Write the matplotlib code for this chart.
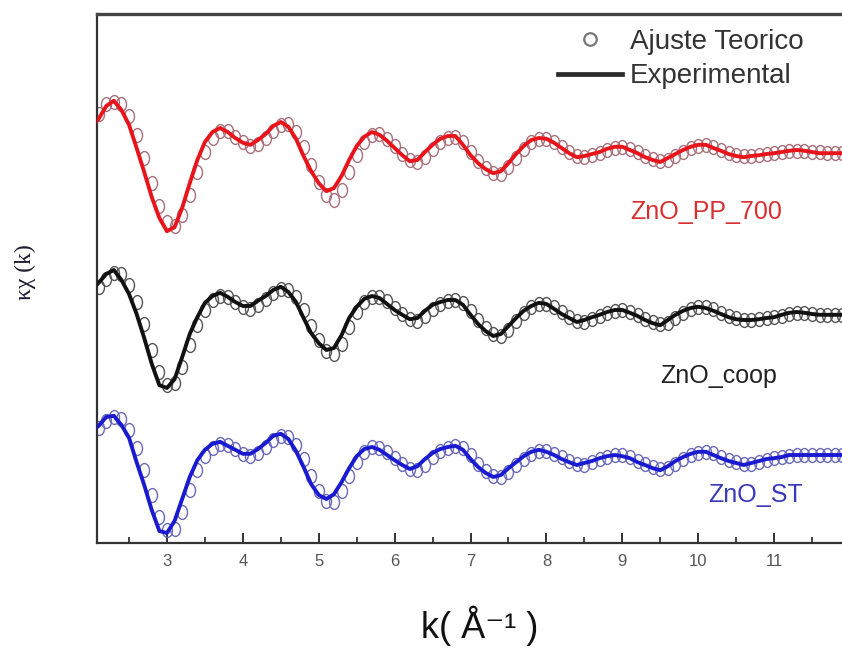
import numpy as np
import matplotlib
matplotlib.use("Agg")
import matplotlib.pyplot as plt
from matplotlib.path import Path
from matplotlib.lines import Line2D
from matplotlib.ticker import MultipleLocator

# ---------------- data ----------------
k = np.arange(20, 121) / 10.0          # k grid, 2.0 ... 12.0 (Å^-1)

red_exp = [0.60, 0.83, 1.15, 1.28, 1.05, 0.68, 0.10, -0.50, -1.13, -1.65,
           -1.98, -1.88, -1.40, -0.78, -0.20, 0.25, 0.50, 0.60, 0.50, 0.35,
           0.23, 0.18, 0.30, 0.45, 0.65, 0.75, 0.63, 0.33, -0.10, -0.48,
           -0.78, -0.98, -0.90, -0.60, -0.20, 0.15, 0.38, 0.50, 0.43, 0.28,
           0.10, -0.08, -0.23, -0.20, 0.00, 0.18, 0.33, 0.40, 0.40, 0.18,
           -0.08, -0.28, -0.43, -0.53, -0.48, -0.28, -0.05, 0.15, 0.30, 0.35,
           0.33, 0.23, 0.10, -0.03, -0.13, -0.10, -0.05, 0.00, 0.08, 0.13,
           0.13, 0.05, -0.03, -0.13, -0.20, -0.25, -0.15, -0.05, 0.05, 0.13,
           0.18, 0.18, 0.10, 0.03, -0.05, -0.10, -0.13, -0.10, -0.08, -0.05,
           -0.03, 0.00, 0.03, 0.05, 0.03, 0.00, -0.03, -0.03, -0.03, -0.03,
           -0.03]
red_fit = [0.75, 0.95, 1.20, 1.25, 1.20, 0.90, 0.43, -0.15, -0.78, -1.35,
           -1.75, -1.85, -1.58, -1.08, -0.50, 0.00, 0.35, 0.53, 0.53, 0.38,
           0.25, 0.15, 0.20, 0.35, 0.53, 0.68, 0.70, 0.50, 0.13, -0.33,
           -0.75, -1.08, -1.20, -0.95, -0.50, -0.08, 0.25, 0.43, 0.45, 0.33,
           0.15, -0.05, -0.20, -0.25, -0.13, 0.08, 0.25, 0.35, 0.38, 0.25,
           0.00, -0.23, -0.40, -0.53, -0.55, -0.38, -0.15, 0.08, 0.25, 0.33,
           0.33, 0.25, 0.13, 0.00, -0.10, -0.13, -0.08, -0.03, 0.05, 0.10,
           0.13, 0.08, 0.00, -0.10, -0.18, -0.23, -0.20, -0.10, 0.00, 0.10,
           0.15, 0.18, 0.13, 0.05, -0.03, -0.08, -0.10, -0.10, -0.08, -0.05,
           -0.03, 0.00, 0.03, 0.03, 0.03, 0.00, 0.00, -0.03, -0.03, -0.03,
           -0.03]

black_exp = [0.65, 0.83, 1.05, 1.15, 0.90, 0.55, 0.05, -0.55, -1.20, -1.73,
             -1.80, -1.58, -1.03, -0.45, -0.03, 0.33, 0.50, 0.58, 0.48, 0.35,
             0.25, 0.25, 0.38, 0.50, 0.65, 0.73, 0.60, 0.35, -0.05, -0.43,
             -0.68, -0.85, -0.80, -0.48, -0.05, 0.23, 0.43, 0.50, 0.45, 0.30,
             0.15, 0.03, -0.08, -0.05, 0.13, 0.28, 0.35, 0.40, 0.40, 0.28,
             0.03, -0.20, -0.38, -0.50, -0.45, -0.25, -0.05, 0.13, 0.25, 0.33,
             0.30, 0.18, 0.05, -0.05, -0.15, -0.10, -0.03, 0.03, 0.10, 0.15,
             0.15, 0.08, 0.00, -0.10, -0.18, -0.23, -0.10, 0.03, 0.13, 0.20,
             0.23, 0.20, 0.13, 0.05, -0.03, -0.08, -0.10, -0.10, -0.08, -0.05,
             -0.03, 0.03, 0.08, 0.10, 0.08, 0.05, 0.03, 0.03, 0.03, 0.03,
             0.03]
black_fit = [0.60, 0.73, 0.93, 1.08, 1.05, 0.78, 0.35, -0.20, -0.85, -1.40,
             -1.73, -1.68, -1.28, -0.73, -0.23, 0.15, 0.40, 0.50, 0.48, 0.35,
             0.23, 0.18, 0.28, 0.43, 0.58, 0.68, 0.65, 0.48, 0.15, -0.25,
             -0.60, -0.88, -0.95, -0.70, -0.28, 0.10, 0.35, 0.48, 0.48, 0.38,
             0.20, 0.05, -0.08, -0.13, 0.00, 0.18, 0.30, 0.38, 0.40, 0.33,
             0.13, -0.10, -0.30, -0.45, -0.50, -0.35, -0.13, 0.08, 0.23, 0.30,
             0.30, 0.23, 0.10, -0.03, -0.13, -0.15, -0.08, 0.00, 0.08, 0.13,
             0.15, 0.10, 0.03, -0.08, -0.15, -0.20, -0.18, -0.05, 0.08, 0.18,
             0.23, 0.23, 0.18, 0.08, 0.00, -0.05, -0.10, -0.10, -0.08, -0.05,
             -0.03, 0.00, 0.05, 0.08, 0.08, 0.05, 0.03, 0.03, 0.03, 0.03,
             0.03]

blue_exp = [0.58, 0.73, 0.95, 0.98, 0.75, 0.43, -0.18, -0.75, -1.38, -1.90,
            -1.95, -1.65, -1.10, -0.55, -0.13, 0.13, 0.28, 0.33, 0.23, 0.13,
            0.03, 0.03, 0.15, 0.30, 0.48, 0.53, 0.40, 0.10, -0.30, -0.73,
            -1.00, -1.10, -0.98, -0.68, -0.33, -0.03, 0.15, 0.20, 0.13, 0.00,
            -0.13, -0.25, -0.35, -0.28, -0.10, 0.05, 0.15, 0.20, 0.23, 0.13,
            -0.10, -0.30, -0.45, -0.55, -0.50, -0.33, -0.18, -0.03, 0.08, 0.13,
            0.08, 0.00, -0.10, -0.18, -0.25, -0.20, -0.15, -0.08, -0.03, 0.00,
            -0.03, -0.08, -0.18, -0.25, -0.33, -0.38, -0.28, -0.15, -0.05, 0.03,
            0.08, 0.08, 0.00, -0.08, -0.15, -0.20, -0.25, -0.20, -0.15, -0.10,
            -0.08, -0.05, 0.00, 0.00, 0.00, 0.00, 0.00, 0.00, 0.00, 0.00,
            0.00]
blue_fit = [0.55, 0.68, 0.85, 0.95, 0.90, 0.63, 0.18, -0.38, -1.00, -1.55,
            -1.88, -1.85, -1.43, -0.88, -0.38, -0.03, 0.18, 0.28, 0.25, 0.15,
            0.03, -0.03, 0.05, 0.20, 0.38, 0.48, 0.45, 0.25, -0.10, -0.53,
            -0.90, -1.15, -1.18, -0.90, -0.53, -0.18, 0.08, 0.20, 0.18, 0.08,
            -0.08, -0.23, -0.35, -0.38, -0.25, -0.05, 0.10, 0.18, 0.23, 0.18,
            0.00, -0.23, -0.40, -0.53, -0.55, -0.43, -0.25, -0.10, 0.03, 0.10,
            0.10, 0.03, -0.05, -0.15, -0.23, -0.25, -0.18, -0.10, -0.05, 0.00,
            0.00, -0.05, -0.15, -0.23, -0.30, -0.35, -0.33, -0.23, -0.10, 0.00,
            0.05, 0.08, 0.05, -0.05, -0.13, -0.18, -0.23, -0.23, -0.18, -0.13,
            -0.08, -0.05, -0.03, 0.00, 0.00, 0.00, 0.00, 0.00, 0.00, 0.00,
            0.00]

sample_names = ["ZnO_PP_700", "ZnO_coop", "ZnO_ST"]
legend_labels = ["Ajuste Teorico", "Experimental"]
x_ticks = [3, 4, 5, 6, 7, 8, 9, 10, 11]

# ---------------- styling / layout ----------------
W, H = 842, 655
fig = plt.figure(figsize=(W / 100, H / 100), dpi=100)
ax = fig.add_axes([97 / W, (H - 543) / H, (850 - 97) / W, (543 - 14) / H])

offsets = [9.775, 5.675, 2.2]
line_colors = ["#e8141c", "#111111", "#1a1ad0"]
marker_edges = ["#a8707a", "#555555", "#6a6ab8"]
label_colors = ["#d83030", "#222222", "#3a3ab8"]
label_pos = [(10.11, 8.28), (10.27, 4.17), (10.75, 1.20)]

# slightly tall ellipse marker (as in the reference)
uc = Path.unit_circle()
ell = Path(uc.vertices * np.array([0.72, 1.0]), uc.codes)

series = [(red_exp, red_fit), (black_exp, black_fit), (blue_exp, blue_fit)]
for i, (ex, ft) in enumerate(series):
    ax.plot(k, np.array(ft) + offsets[i], linestyle="none", marker=ell,
            markersize=10, markerfacecolor="none",
            markeredgecolor=marker_edges[i], markeredgewidth=1.0, zorder=2)
    ax.plot(k, np.array(ex) + offsets[i], color=line_colors[i], lw=2.8,
            solid_capstyle="round", zorder=3)
    ax.text(label_pos[i][0], label_pos[i][1], sample_names[i],
            color=label_colors[i], fontsize=18, family="Liberation Sans",
            ha="center", va="center")

ax.set_xlim(2.078, 12.0)
ax.set_ylim(0, 13.225)

ax.xaxis.set_major_locator(MultipleLocator(1))
ax.xaxis.set_minor_locator(MultipleLocator(0.5))
ax.set_xticks(x_ticks)
ax.set_xticklabels([str(t) for t in x_ticks])
ax.tick_params(axis="x", which="major", direction="in", length=7, width=1.3,
               color="#222222", labelsize=12, labelcolor="#555555", pad=8)
ax.tick_params(axis="x", which="minor", direction="in", length=4, width=1.2,
               color="#222222")
for lab in ax.get_xticklabels():
    lab.set_family("Liberation Sans")
ax.set_yticks([])

for s in ["left", "bottom"]:
    ax.spines[s].set_linewidth(1.6)
    ax.spines[s].set_color("#333333")
ax.spines["top"].set_linewidth(2.4)
ax.spines["top"].set_color("#444444")
ax.spines["right"].set_visible(False)

ax.set_xlabel("k( Å\u207b\u00b9 )", fontsize=26,
              family=["Liberation Sans", "DejaVu Sans"], color="#111111")
ax.xaxis.set_label_coords((480 - 97) / 753, -(606 - 543) / 529)
ax.set_ylabel("κχ (k)", fontsize=17, family="Liberation Serif",
              color="#1a1a2a")
ax.yaxis.set_label_coords(-(97 - 36) / 753, (543 - 272) / 529)

handles = [Line2D([], [], linestyle="none", marker="o", markersize=9,
                  markerfacecolor="none", markeredgecolor="#777777",
                  markeredgewidth=1.6),
           Line2D([], [], color="#2a2a2a", lw=3.4)]
leg = ax.legend(handles, legend_labels, loc="upper left",
                bbox_to_anchor=((558 - 97) / 753, (543 - 29) / 529),
                frameon=False, prop={"family": "Liberation Sans", "size": 20},
                handlelength=2.3, handletextpad=0.3, labelspacing=0.3,
                borderpad=0, borderaxespad=0, numpoints=1)
for t in leg.get_texts():
    t.set_color("#333333")

fig.savefig("out.png", dpi=100, facecolor="white")
